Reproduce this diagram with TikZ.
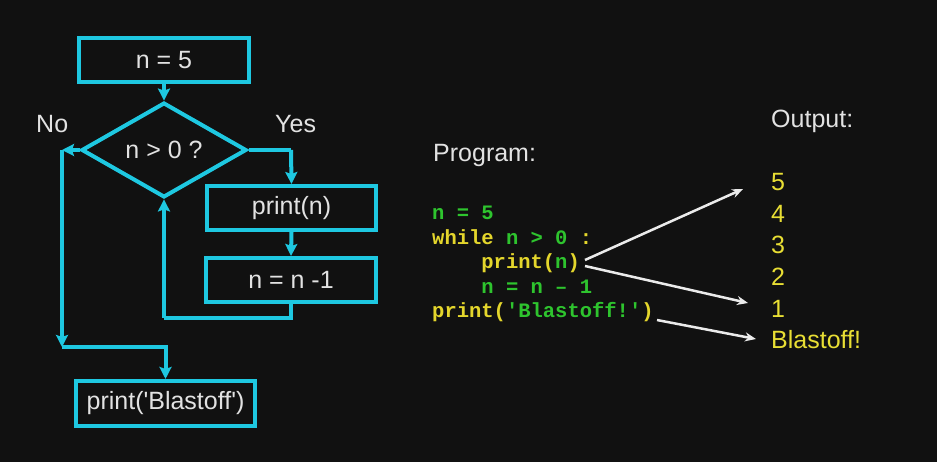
\documentclass[tikz,border=0pt]{standalone}
\usepackage{fontspec}
\setmainfont{Liberation Sans}
\newfontfamily\codefont{Liberation Mono}
\usetikzlibrary{shapes.geometric,arrows.meta}
\definecolor{bgc}{HTML}{111111}
\definecolor{cyanc}{HTML}{1EC8E1}
\definecolor{txtc}{HTML}{E2E2E2}
\definecolor{grn}{HTML}{2EC42E}
\definecolor{ylw}{HTML}{E4D62C}
\definecolor{outy}{HTML}{E8DE34}
\tikzset{
  flowbox/.style={draw=cyanc, line width=4pt, minimum width=170pt, minimum height=44pt, inner sep=0pt, text=txtc, font=\fontsize{25}{25}\selectfont},
  decbox/.style={draw=cyanc, line width=4pt, shape=diamond, minimum width=165pt, minimum height=74pt, inner sep=0pt, text=txtc, font=\fontsize{25}{25}\selectfont},
  flowline/.style={draw=cyanc, line width=4pt},
  flowarrow/.style={flowline, -{Stealth[length=12pt,width=12pt,inset=2pt]}},
  lbl/.style={text=txtc, font=\fontsize{25}{25}\selectfont, inner sep=0pt, anchor=base west},
  codeline/.style={font=\codefont\bfseries\fontsize{20.5}{20.5}\selectfont, inner sep=0pt, anchor=base west},
  outline/.style={text=outy, font=\fontsize{25}{25}\selectfont, inner sep=0pt, anchor=base west},
  whitearrow/.style={draw=white!92!black, line width=2.5pt, -{Stealth[length=11pt,width=9pt]}}
}
\begin{document}
\begin{tikzpicture}[x=1pt,y=-1pt]
\fill[bgc] (0,0) rectangle (937,462);
\useasboundingbox (0,0) rectangle (937,462);
% flowchart
\node[flowbox] (init) at (164,60) {n = 5};
\node[decbox] (dec) at (164,150) {n > 0 ?};
\node[flowbox, minimum width=169pt] (pr) at (291.5,208) {print(n)};
\node[flowbox, minimum width=170pt] (dc) at (291,280) {n = n -1};
\node[flowbox, minimum width=179pt, minimum height=45pt] (bl) at (165.5,403.5) {print(\textquotesingle Blastoff\textquotesingle)};
\node[lbl] (no) at (36,133) {No};
\node[lbl] (yes) at (275,133) {Yes};
\coordinate (nocorner) at (62,150);
\coordinate (nobottom) at (62,347);
\coordinate (yescorner) at (291,150);
\coordinate (loopr) at (291,318);
\coordinate (loopl) at (164,318);
\draw[flowarrow] (init.south) -- (dec.north);
\draw[flowarrow] (dec.west) -- (nocorner);
\draw[flowarrow] (nocorner) -- (nobottom);
\draw[flowarrow] (nobottom) -| (bl.north);
\draw[flowline] (dec.east) -- (yescorner);
\draw[flowarrow] (yescorner) -- (pr.north);
\draw[flowarrow] (pr.south) -- (dc.north);
\draw[flowline] (dc.south) -- (loopr) -- (loopl);
\draw[flowarrow] (loopl) -- (dec.south);
% program
\node[lbl] (prog) at (433,162) {Program:};
\node[codeline] (c1) at (432,220) {\textcolor{grn}{n = 5}};
\node[codeline] (c2) at (432,244.5) {\textcolor{ylw}{while} \textcolor{grn}{n > 0} \textcolor{ylw}{:}};
\node[codeline] (c3) at (481.2,269) {\textcolor{ylw}{print(}\textcolor{grn}{n}\textcolor{ylw}{)}};
\node[codeline] (c4) at (481.2,293.5) {\textcolor{grn}{n = n – 1}};
\node[codeline] (c5) at (432,318) {\textcolor{ylw}{print(}\textcolor{grn}{'Blastoff!'}\textcolor{ylw}{)}};
% output
\node[lbl] (outl) at (771,128) {Output:};
\node[outline] (o5) at (771,191) {5};
\node[outline] (o4) at (771,222.5) {4};
\node[outline] (o3) at (771,254) {3};
\node[outline] (o2) at (771,285.5) {2};
\node[outline] (o1) at (771,317) {1};
\node[outline] (ob) at (771,348.5) {Blastoff!};
\coordinate (s1) at (585,260);
\coordinate (s2) at (585,266);
\coordinate (s3) at (657,320);
\coordinate (t1) at (743,189);
\coordinate (t2) at (748,303);
\coordinate (t3) at (756,339);
\draw[whitearrow] (s1) -- (t1);
\draw[whitearrow] (s2) -- (t2);
\draw[whitearrow] (s3) -- (t3);
\end{tikzpicture}
\end{document}
